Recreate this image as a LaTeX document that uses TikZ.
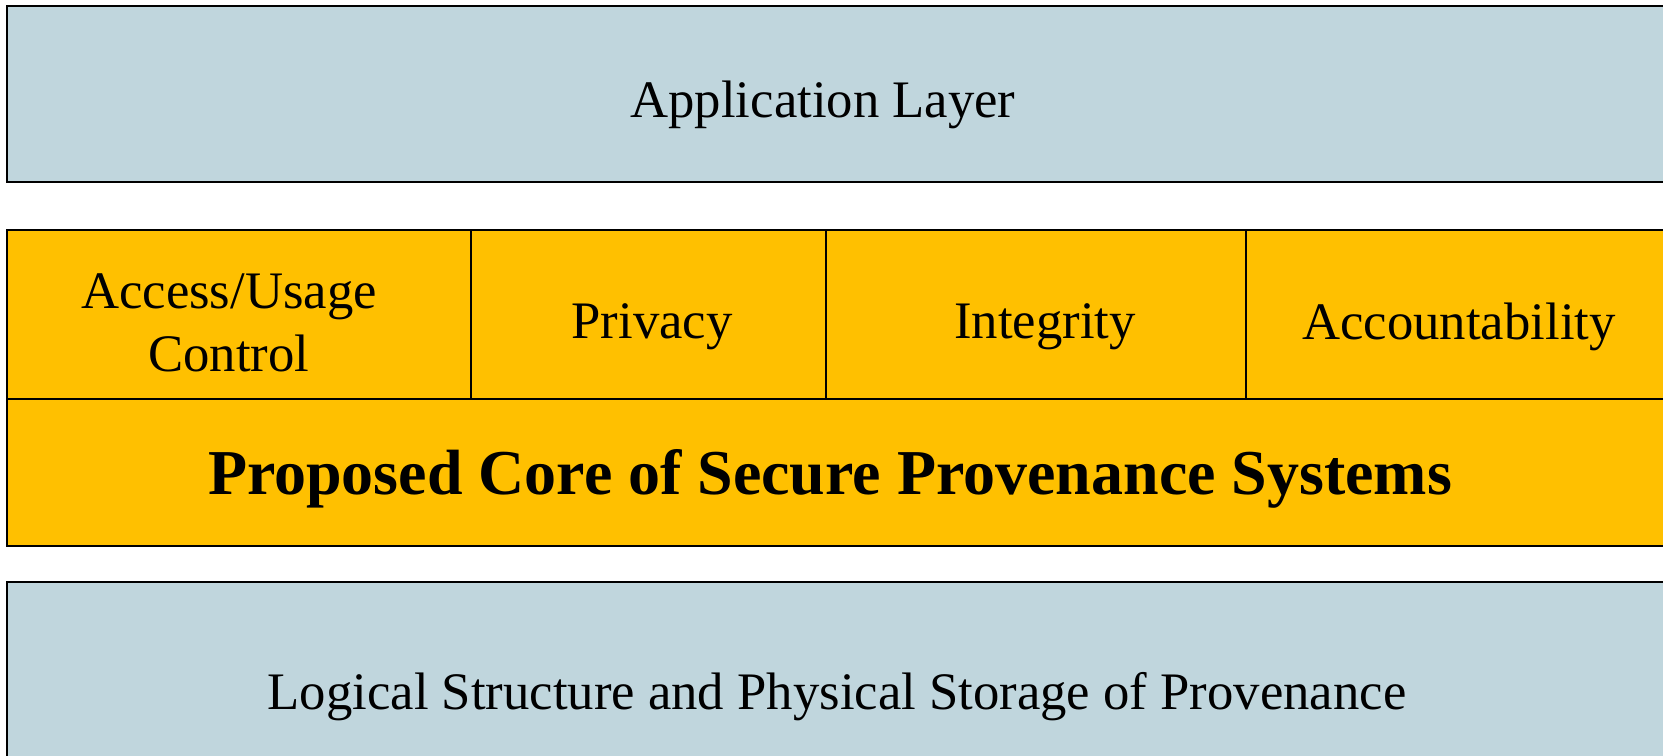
\documentclass[tikz,border=0pt]{standalone}
\usepackage{fontspec}
\setmainfont{Liberation Serif}
\usepackage{tikz}

\definecolor{layerblue}{RGB}{192,214,221}
\definecolor{coregold}{RGB}{255,192,0}

\begin{document}
\begin{tikzpicture}[x=0.02cm,y=-0.02cm,
        layer/.style={draw=black,line width=1.1pt},
        label/.style={font=\fontsize{30}{34}\selectfont,align=center},
        title/.style={font=\fontsize{36.4}{40}\selectfont\bfseries}]
        \useasboundingbox (0,0) rectangle (1663,756);
        \clip (0,0) rectangle (1663,756);

        % Application layer on top
        \draw[layer,fill=layerblue] (7,6) rectangle (1675,182);
        \node[label] (app) at (823,105) {Application Layer};

        % Security core in the middle
        \draw[layer,fill=coregold] (7,230) rectangle (1675,546);
        \draw[layer] (7,399) -- (1675,399);
        \draw[layer] (471,230) -- (471,399);
        \draw[layer] (826,230) -- (826,399);
        \draw[layer] (1246,230) -- (1246,399);

        \node[label] (access) at (229,323) {Access/Usage\\[2pt]Control};
        \node[label] (privacy) at (652,327) {Privacy};
        \node[label] (integrity) at (1045,327) {Integrity};
        \node[label] (account) at (1459,327) {Accountability};
        \node[title] (core) at (830,479) {Proposed Core of Secure Provenance Systems};

        % Storage layer at the bottom
        \draw[layer,fill=layerblue] (7,582) rectangle (1675,780);
        \node[label] (storage) at (837,697) {Logical Structure and Physical Storage of Provenance};
\end{tikzpicture}
\end{document}
